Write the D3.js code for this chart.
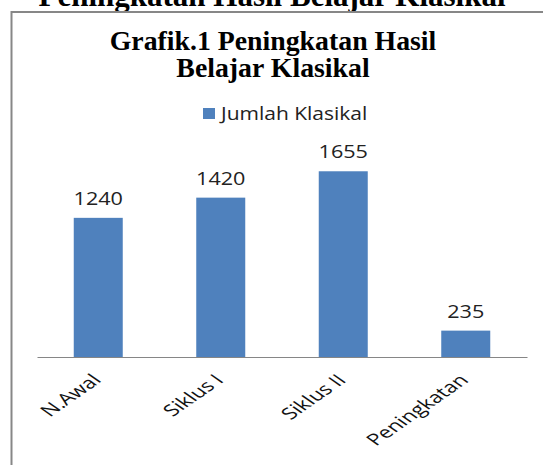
<!DOCTYPE html>
<html lang='en'>
<head>
	<meta charset='UTF-8'/>
	<title>Grafik.1 Peningkatan Hasil Belajar Klasikal</title>
	<script src='https://cdnjs.cloudflare.com/ajax/libs/d3/7.8.5/d3.min.js'></script>
	<style>
		html, body {margin: 0; padding: 0; background: #fff; overflow: hidden;}
		svg {display: block;}
		.serif {font-family: 'Liberation Serif', 'Times New Roman', serif; font-weight: bold; fill: #000;}
		.sans {font-family: 'Open Sans', sans-serif; fill: #000;}
	</style>
</head>
<body>
	<div class='graph'></div>
	<script>
		// data
		const categories = ['N.Awal', 'Siklus I', 'Siklus II', 'Peningkatan'];
		const values = [1240, 1420, 1655, 235];
		const seriesName = 'Jumlah Klasikal';
		const pageTitle = 'Peningkatan Hasil Belajar Klasikal';
		const chartTitle = ['Grafik.1 Peningkatan Hasil', 'Belajar Klasikal'];

		var width = 543;
		var height = 465;
		// the picture is a chart stretched sideways, so text gets an x-scale
		const SX = 1.2;
		const SX_ROT = 1.43;

		var svg = d3.select('.graph')
			.append('svg')
			.attr('width', width)
			.attr('height', height);

		// page heading cut off at the top
		svg.append('text')
			.attr('class', 'serif')
			.attr('x', 272)
			.attr('y', 6)
			.attr('text-anchor', 'middle')
			.style('font-size', '31px')
			.text(pageTitle);

		// chart frame (only left and top edges show)
		svg.append('path')
			.attr('d', 'M11.5,' + height + 'V12H' + (width + 2))
			.attr('fill', 'none')
			.attr('stroke', '#878787')
			.attr('stroke-width', 2);

		// chart title
		chartTitle.forEach((t, i) => {
			svg.append('text')
				.attr('class', 'serif')
				.attr('transform', 'translate(273,' + (50 + i * 27) + ') scale(1.03,1)')
				.attr('text-anchor', 'middle')
				.style('font-size', '27px')
				.text(t);
		});

		// legend
		svg.append('rect')
			.attr('x', 203)
			.attr('y', 108)
			.attr('width', 12)
			.attr('height', 11)
			.attr('fill', '#4F81BD');
		svg.append('text')
			.attr('class', 'sans')
			.attr('transform', 'translate(221,120) scale(' + SX + ',1)')
			.style('font-size', '17.5px')
			.style('fill', '#222')
			.text(seriesName);

		// scales
		const margin = {left: 37, right: 16, bottom: 108};
		const axisY = height - margin.bottom;
		const X_SCALE = d3.scaleBand()
			.domain(categories)
			.range([margin.left, width - margin.right]);
		const Y_SCALE = d3.scaleLinear()
			.domain([0, 1800])
			.range([axisY, axisY - 202]);
		const barW = X_SCALE.bandwidth() * 0.4;

		// bars
		svg.selectAll('.bar')
			.data(values)
			.enter()
			.append('rect')
			.attr('class', 'bar')
			.attr('x', (d, i) => X_SCALE(categories[i]) + (X_SCALE.bandwidth() - barW) / 2)
			.attr('y', d => Y_SCALE(d))
			.attr('width', barW)
			.attr('height', d => axisY - Y_SCALE(d))
			.attr('fill', '#4F81BD');

		// value labels
		svg.selectAll('.val')
			.data(values)
			.enter()
			.append('text')
			.attr('class', 'sans val')
			.attr('text-anchor', 'middle')
			.attr('transform', (d, i) => 'translate(' + (X_SCALE(categories[i]) + X_SCALE.bandwidth() / 2) + ',' + (Y_SCALE(d) - 13) + ') scale(' + SX + ',1)')
			.style('font-size', '18px')
			.style('fill', '#222')
			.text(d => d);

		// x axis
		const xAxis = svg.append('g')
			.attr('transform', 'translate(0,' + axisY + ')')
			.call(d3.axisBottom(X_SCALE).tickSize(0).tickFormat(''));
		xAxis.select('.domain').attr('stroke', '#868686').attr('stroke-width', 1.2);

		// category labels, rotated
		svg.selectAll('.cat')
			.data(categories)
			.enter()
			.append('text')
			.attr('class', 'sans cat')
			.attr('text-anchor', 'end')
			.attr('transform', d => 'translate(' + (X_SCALE(d) + X_SCALE.bandwidth() / 2 + 4) + ',' + (axisY + 24) + ') scale(' + SX_ROT + ',1) rotate(-45)')
			.style('font-size', '16px')
			.style('fill', '#111')
			.text(d => d);
	</script>
</body>
</html>
